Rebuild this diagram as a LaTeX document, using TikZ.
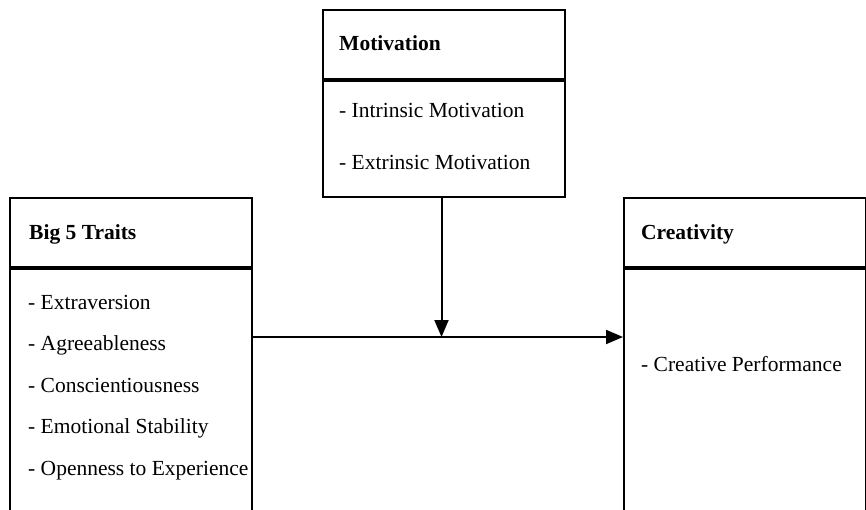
\documentclass[tikz,border=0pt]{standalone}
\usepackage{fontspec}
\setmainfont{Liberation Serif}
\usepackage{tikz}
\usetikzlibrary{arrows.meta,positioning}

\begin{document}
\begin{tikzpicture}[
  x=1pt, y=-1pt,
  font=\fontsize{21.5}{25}\selectfont,
  box/.style={draw, line width=2pt, rectangle, minimum width=242pt, anchor=north west, inner sep=0pt},
  head/.style={font=\fontsize{21.5}{25}\selectfont\bfseries, anchor=base west, inner sep=0pt},
  item/.style={anchor=base west, inner sep=0pt},
  link/.style={-{Triangle[length=17pt,width=14pt]}, line width=2pt}
]
\clip (0,0) rectangle (866,510);

% boxes
\node[box, minimum height=69.5pt] (bighead) at (9,197) {};
\node[box, minimum height=300pt] (bigbody) at (bighead.south west) {};
\node[box, minimum height=69pt] (motivhead) at (322,9) {};
\node[box, minimum height=116pt] (motivbody) at (motivhead.south west) {};
\node[box, minimum height=69.5pt] (creathead) at (623,197) {};
\node[box, minimum height=300pt] (creatbody) at (creathead.south west) {};

% titles
\node[head] (bigtitle) at (29,240) {Big 5 Traits};
\node[head] (motivtitle) at (339,51) {Motivation};
\node[head] (creattitle) at (641,240) {Creativity};

% items
\foreach \txt [count=\i] in {Extraversion, Agreeableness, Conscientiousness, Emotional Stability, Openness to Experience}
  \node[item] (trait\i) at (28,267.5+41.5*\i) {- \txt};
\node[item] (intrinsic) at (339,118) {- Intrinsic Motivation};
\node[item] (extrinsic) at (339,170) {- Extrinsic Motivation};
\node[item] (performance) at (641,371.5) {- Creative Performance};

% connectors
\coordinate (joint) at (441.5,337);
\draw[link] (bigbody.east |- joint) -- (creatbody.west |- joint);
\draw[link] (motivbody.south -| joint) -- (joint);
\end{tikzpicture}
\end{document}
